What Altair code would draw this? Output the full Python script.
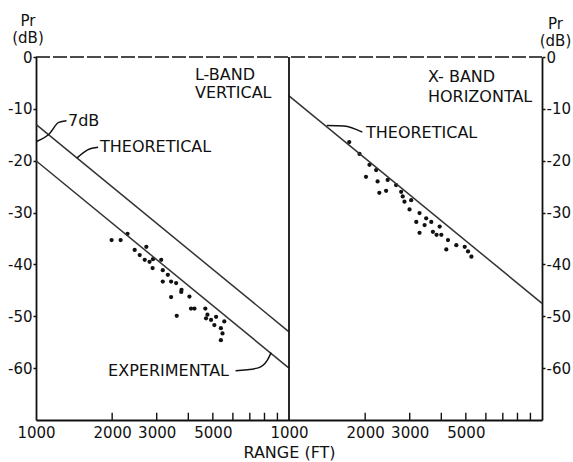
import altair as alt
import pandas as pd

# ---------------- data ----------------
# L-band vertical: measured points (range ft, Pr dB)
l_range = [1990, 2160, 2300, 2455, 2570, 2690, 2730, 2810, 2890, 2900,
           3125, 3170, 3320, 3170, 3420, 3580, 3750, 3420, 4040, 4100,
           4230, 4670, 3600, 4700, 4920, 5070, 5150, 5380, 5460, 5380,
           5550, 4760, 3760]
l_db = [-35.3, -35.3, -34.1, -37.2, -38.2, -39.1, -36.6, -39.5, -40.7, -39.0,
        -39.1, -41.1, -42.0, -43.3, -43.3, -43.6, -45.3, -46.3, -46.2, -48.5,
        -48.5, -48.5, -49.9, -50.4, -50.7, -51.7, -50.1, -52.3, -53.3, -54.6,
        -51.0, -49.7, -44.9]

# X-band horizontal: measured points
x_range = [1730, 1900, 2080, 2210, 2015, 2240, 2455, 2650, 2275, 2420,
           2775, 2815, 2860, 3040, 2995, 3280, 3185, 3485, 3435, 3650,
           3280, 3705, 3940, 4000, 4250, 4185, 4585, 4950, 5100, 5260,
           3830]
x_db = [-16.4, -18.7, -20.8, -21.8, -23.1, -24.0, -23.7, -24.7, -26.2, -25.8,
        -26.0, -26.9, -27.9, -27.6, -29.4, -30.1, -31.8, -31.1, -32.4, -31.8,
        -33.9, -33.7, -32.7, -34.3, -35.3, -37.1, -36.3, -36.6, -37.5, -38.5,
        -34.3]

# straight lines (theoretical / experimental)
line_panel = ["L", "L", "L", "L", "X", "X"]
line_name = ["L theoretical", "L theoretical", "L experimental", "L experimental",
             "X theoretical", "X theoretical"]
line_range = [1000, 10000, 1000, 10000, 1000, 10000]
line_db = [-13, -53, -20, -60, -7.5, -47.5]

# axes
x_tick_labels = [1000, 2000, 3000, 5000]
minor_ticks = [2000, 3000, 4000, 5000, 6000, 7000, 8000, 9000]
y_ticks = [0, -10, -20, -30, -40, -50, -60]

# annotations
ann_text = ["L-BAND", "VERTICAL", "X- BAND", "HORIZONTAL", "THEORETICAL",
            "THEORETICAL", "7dB", "EXPERIMENTAL"]
ann_panel = ["L", "L", "X", "X", "L", "X", "L", "L"]
ann_range = [4250, 4250, 3540, 3540, 1790, 2015, 1338, 1927]
ann_db = [-3.5, -6.9, -3.9, -7.7, -17.4, -14.7, -12.3, -60.5]

# leader lines of the annotations
lead_id = ["t1", "t1", "t1", "d7", "d7", "d7", "d7", "ex", "ex", "ex", "ex", "t2", "t2", "t2"]
lead_panel = ["L", "L", "L", "L", "L", "L", "L", "L", "L", "L", "L", "X", "X", "X"]
lead_range = [1450, 1600, 1760, 1005, 1130, 1230, 1320, 6150, 7500, 8200, 8500, 1410, 1650, 1950]
lead_db = [-19.5, -17.9, -17.4, -16.3, -14.8, -12.6, -12.3, -60.5, -60.0, -58.5, -57.0, -13.2, -13.3, -14.5]
lead_order = [0, 1, 2, 0, 1, 2, 3, 0, 1, 2, 3, 0, 1, 2]

# ---------------- tables ----------------
pts_df = pd.DataFrame({
    "range": l_range + x_range,
    "db": l_db + x_db,
    "panel": ["L"] * len(l_range) + ["X"] * len(x_range),
})
lines_df = pd.DataFrame({"range": line_range, "db": line_db,
                         "panel": line_panel, "name": line_name})
ann_df = pd.DataFrame({"range": ann_range, "db": ann_db,
                       "panel": ann_panel, "text": ann_text})
lead_df = pd.DataFrame({"range": lead_range, "db": lead_db, "panel": lead_panel,
                        "id": lead_id, "order": lead_order})
ticks_df = pd.DataFrame({"range": minor_ticks * 2,
                         "panel": ["L"] * len(minor_ticks) + ["X"] * len(minor_ticks)})

# X-band panel sits one decade to the right on a shared log axis
XPOS = "datum.range * (datum.panel === 'X' ? 10 : 1)"

INK = "#111111"
FONT = "DejaVu Sans"

xscale = alt.Scale(type="log", domain=[1000, 100000], nice=False)
yscale = alt.Scale(domain=[-70, 0], nice=False, zero=False)

xaxis = alt.Axis(
    orient="bottom",
    values=x_tick_labels + [v * 10 for v in x_tick_labels],
    labelExpr="toString(datum.value >= 10000 ? round(datum.value / 10) : datum.value)",
    ticks=False, grid=False, domain=True, domainWidth=1.8, domainColor=INK,
    labelFlush=False, labelOverlap=False, labelBound=False,
    labelFontSize=15, labelPadding=5,
    title="RANGE (FT)", titleFontSize=16, titleFontWeight="normal", titlePadding=4,
)

def yaxis(orient, title_x, title_y):
    return alt.Axis(
        orient=orient, values=y_ticks, labelExpr="toString(datum.value)",
        grid=False, tickSize=3, tickWidth=1.5, labelPadding=1,
        domainWidth=1.8, domainColor=INK, tickColor=INK,
        labelFontSize=15,
        title=["Pr", "(dB)"], titleAngle=0, titleX=title_x, titleY=title_y,
        titleAlign="center", titleBaseline="alphabetic", titleFontSize=15,
        titleFontWeight="normal", titleLineHeight=17,
    )

def X(field=None, datum=None):
    if datum is not None:
        return alt.X(datum=datum, type="quantitative", scale=xscale, axis=xaxis)
    return alt.X(field, type="quantitative", scale=xscale, axis=xaxis)

points = alt.Chart(pts_df).transform_calculate(xpos=XPOS).mark_circle(
    size=18, color=INK, opacity=1
).encode(
    x=X("xpos"),
    y=alt.Y("db:Q", scale=yscale, axis=yaxis("left", -8.5, -32)),
)

lines = alt.Chart(lines_df).transform_calculate(xpos=XPOS).mark_line(
    color="#333333", strokeWidth=1.5
).encode(
    x=X("xpos"),
    y=alt.Y("db:Q", scale=yscale, axis=yaxis("right", 13, -29)),
    detail="name:N",
)

top_border = alt.Chart(pd.DataFrame({"k": [0]})).mark_rule(
    color=INK, strokeWidth=1.5, strokeDash=[14, 3]
).encode(
    x=X(datum=1000),
    x2=alt.X2(datum=100000),
    y=alt.Y(datum=0, scale=yscale, axis=None),
)

divider = alt.Chart(pd.DataFrame({"k": [0]})).mark_rule(
    color=INK, strokeWidth=1.8
).encode(
    x=X(datum=10000),
    y=alt.Y(datum=0, scale=yscale, axis=None),
    y2=alt.Y2(datum=-70),
)

inner_ticks = alt.Chart(ticks_df).transform_calculate(xpos=XPOS).mark_rule(
    color=INK, strokeWidth=1.4
).encode(
    x=X("xpos"),
    y=alt.Y(datum=-70, scale=yscale, axis=None),
    y2=alt.Y2(datum=-68.6),
)

leaders = alt.Chart(lead_df).transform_calculate(xpos=XPOS).mark_line(
    color=INK, strokeWidth=1.5, interpolate="monotone"
).encode(
    x=X("xpos"),
    y=alt.Y("db:Q", scale=yscale, axis=None),
    detail="id:N",
    order="order:Q",
)

labels = alt.Chart(ann_df).transform_calculate(xpos=XPOS).mark_text(
    align="left", baseline="middle", font=FONT, fontSize=16, color=INK
).encode(
    x=X("xpos"),
    y=alt.Y("db:Q", scale=yscale, axis=None),
    text="text:N",
)

chart = alt.layer(
    points, lines, top_border, divider, inner_ticks, leaders, labels
).resolve_axis(y="independent").properties(
    width=506, height=363,
    autosize=alt.AutoSizeParams(type="none"),
    padding={"left": 36, "top": 57, "right": 31, "bottom": 42},
    background="white",
).configure_view(stroke=None).configure_axis(
    labelFont=FONT, titleFont=FONT, labelColor=INK, titleColor=INK,
)

chart.save("out.html", embed_options={"renderer": "svg", "actions": False})
